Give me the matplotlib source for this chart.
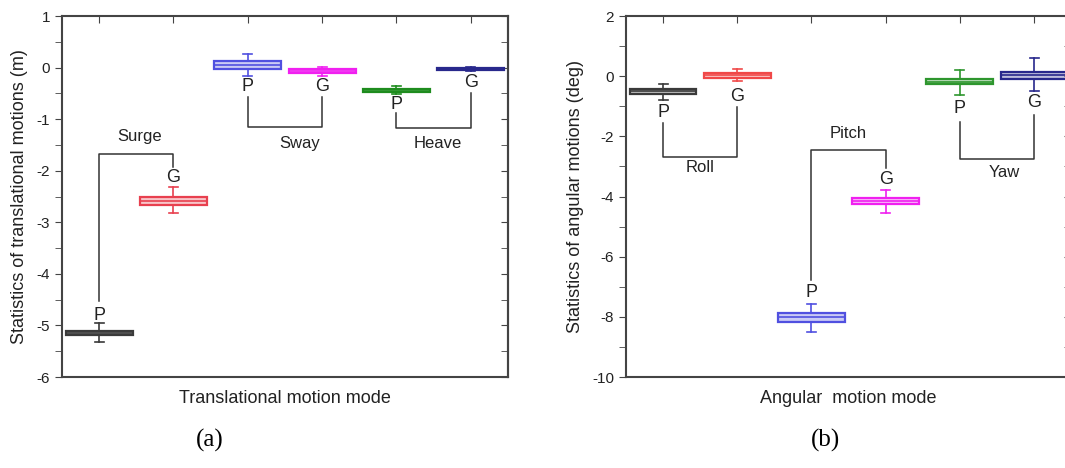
import matplotlib.pyplot as plt
from matplotlib.colors import to_rgba
from matplotlib.ticker import MultipleLocator

plt.rcParams['font.family'] = ['Liberation Sans', 'DejaVu Sans']
plt.rcParams['axes.unicode_minus'] = False

# (a) translational motions: P and G for surge, sway, heave
trans_med = [-5.15, -2.59, 0.05, -0.06, -0.44, -0.02]
trans_q1 = [-5.19, -2.67, -0.02, -0.10, -0.47, -0.04]
trans_q3 = [-5.11, -2.50, 0.12, -0.02, -0.42, 0.00]
trans_lo = [-5.33, -2.81, -0.16, -0.17, -0.52, -0.07]
trans_hi = [-4.96, -2.31, 0.27, 0.02, -0.35, 0.02]
trans_colors = ['#3a3a3a', '#e8404f', '#5050e0', '#f020f0', '#1e8c1e', '#28288c']

# (b) angular motions: P and G for roll, pitch, yaw
ang_med = [-0.50, 0.03, -8.00, -4.15, -0.18, 0.03]
ang_q1 = [-0.59, -0.07, -8.16, -4.25, -0.27, -0.10]
ang_q3 = [-0.43, 0.12, -7.87, -4.05, -0.10, 0.15]
ang_lo = [-0.79, -0.15, -8.52, -4.55, -0.62, -0.48]
ang_hi = [-0.26, 0.24, -7.57, -3.78, 0.20, 0.59]
ang_colors = ['#3a3a3a', '#f04848', '#5050e0', '#f020f0', '#2e962e', '#28288c']

labels = ['P', 'G', 'P', 'G', 'P', 'G']
trans_lab_y = [-4.81, -2.13, -0.37, -0.37, -0.72, -0.29]
ang_lab_y = [-1.2, -0.68, -7.18, -3.45, -1.06, -0.89]

# brackets: (name, p index, p line start, g line start, bar y, text x, text y)
trans_groups = [('Surge', 0, -4.52, -1.92, -1.67, 1.55, -1.34),
                ('Sway', 2, -0.58, -0.58, -1.16, 3.7, -1.47),
                ('Heave', 4, -0.89, -0.50, -1.18, 5.55, -1.47)]
ang_groups = [('Roll', 0, -1.56, -1.02, -2.68, 1.5, -3.05),
              ('Pitch', 2, -6.77, -3.05, -2.45, 3.5, -1.90),
              ('Yaw', 4, -1.51, -1.29, -2.75, 5.6, -3.19)]

fig = plt.figure(figsize=(10.65, 4.68), dpi=100)
ax1 = fig.add_axes([0.0582, 0.1944, 0.4188, 0.7714])
ax2 = fig.add_axes([0.5878, 0.1944, 0.418, 0.7714])


def draw(ax, med, q1, q3, lo, hi, colors, lab_y, groups, ylim, major, minor):
    pos = list(range(1, len(med) + 1))
    stats = [dict(med=m, q1=a, q3=b, whislo=l, whishi=h, fliers=[])
             for m, a, b, l, h in zip(med, q1, q3, lo, hi)]
    bp = ax.bxp(stats, positions=pos, widths=0.9, capwidths=0.12,
                patch_artist=True, showfliers=False)
    for i, c in enumerate(colors):
        bp['boxes'][i].set(facecolor=to_rgba(c, 0.3), edgecolor=c, linewidth=1.6)
        bp['medians'][i].set(color=c, linewidth=1.2)
        for w in bp['whiskers'][2*i:2*i+2] + bp['caps'][2*i:2*i+2]:
            w.set(color=c, linewidth=1.2)
    for x, y, t in zip(pos, lab_y, labels):
        ax.text(x, y, t, ha='center', va='center', fontsize=13, color='#222222')
    for name, i, p0, g0, bar, tx, ty in groups:
        xp, xg = pos[i], pos[i + 1]
        ax.plot([xp, xp, xg, xg], [p0, bar, bar, g0], color='#333333', lw=1.1)
        ax.text(tx, ty, name, ha='center', va='center',
                fontsize=12, color='#222222')
    ax.set_xlim(0.5, 6.5)
    ax.set_ylim(*ylim)
    ax.yaxis.set_major_locator(MultipleLocator(major))
    ax.yaxis.set_minor_locator(MultipleLocator(minor))
    ax.set_xticks(pos)
    ax.set_xticklabels([])
    ax.tick_params(axis='x', which='both', bottom=False, top=True,
                   direction='in', length=5, color='#444444')
    ax.tick_params(axis='y', which='both', left=True, right=False,
                   direction='out', length=5, color='#444444',
                   labelsize=11, labelcolor='#222222')
    # inward ticks on the right spine
    sec = ax.secondary_yaxis('right')
    sec.yaxis.set_major_locator(MultipleLocator(major))
    sec.yaxis.set_minor_locator(MultipleLocator(minor))
    sec.tick_params(axis='y', which='both', direction='in', length=5,
                    color='#444444', labelright=False)
    sec.spines['right'].set_color('#444444')
    sec.spines['right'].set_linewidth(1.5)
    for s in ax.spines.values():
        s.set_color('#444444')
        s.set_linewidth(1.5)


draw(ax1, trans_med, trans_q1, trans_q3, trans_lo, trans_hi, trans_colors,
     trans_lab_y, trans_groups, (-6, 1), 1, 0.5)
draw(ax2, ang_med, ang_q1, ang_q3, ang_lo, ang_hi, ang_colors,
     ang_lab_y, ang_groups, (-10, 2), 2, 1)

ax1.set_ylabel('Statistics of translational motions (m)', fontsize=13,
               color='#222222', labelpad=6)
ax1.set_xlabel('Translational motion mode', fontsize=13, color='#222222',
               labelpad=6)
ax2.set_ylabel('Statistics of angular motions (deg)', fontsize=13,
               color='#222222', labelpad=6)
ax2.set_xlabel('Angular  motion mode', fontsize=13, color='#222222',
               labelpad=6)

fig.text(210 / 1065, 1 - 440 / 468, '(a)', ha='center', va='center',
         fontsize=18, family='Liberation Serif')
fig.text(826 / 1065, 1 - 440 / 468, '(b)', ha='center', va='center',
         fontsize=18, family='Liberation Serif')

fig.savefig('out.png', dpi=100)
